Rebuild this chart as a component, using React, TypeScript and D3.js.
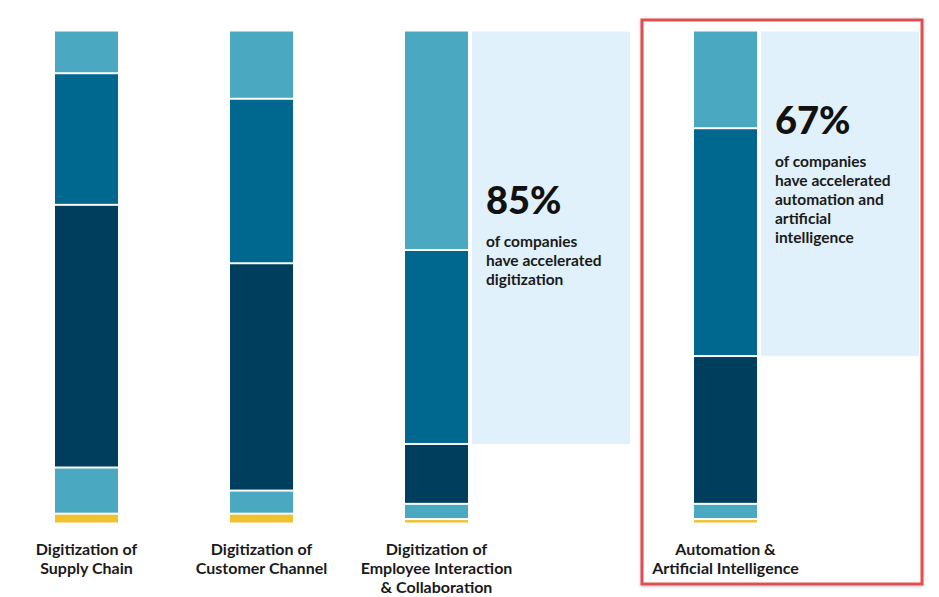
import React from "react";
import * as d3 from "d3";

// ---- data (percent of companies, bottom segment first) ----
const categories = ["supply", "customer", "employee", "automation"];
const labelLines = [
  ["Digitization of", "Supply Chain"],
  ["Digitization of", "Customer Channel"],
  ["Digitization of", "Employee Interaction", "& Collaboration"],
  ["Automation &", "Artificial Intelligence"],
];
const seriesKeys = ["yellow", "lightLow", "dark", "mid", "lightTop"];
const yellowVals = [1.8, 1.8, 0.7, 0.7];
const lightLowVals = [9.4, 4.7, 3.1, 3.1];
const darkVals = [53.5, 46.3, 12.2, 30.1];
const midVals = [26.8, 33.5, 39.5, 46.4];
const lightTopVals = [8.5, 13.7, 44.5, 19.7];

const calloutPct = [null, null, "85%", "67%"];
const calloutLines = [
  [],
  [],
  ["of companies", "have accelerated", "digitization"],
  ["of companies", "have accelerated", "automation and", "artificial", "intelligence"],
];
const highlighted = "automation";

const colors: Record<string, string> = {
  yellow: "#f1c230",
  lightLow: "#4aa9c1",
  dark: "#003e5e",
  mid: "#00678f",
  lightTop: "#4aa9c1",
};

const W = 939;
const H = 597;

export default function App() {
  const rows = categories.map((c, i) => ({
    cat: c,
    yellow: yellowVals[i],
    lightLow: lightLowVals[i],
    dark: darkVals[i],
    mid: midVals[i],
    lightTop: lightTopVals[i],
  }));
  const stack = d3.stack<any>().keys(seriesKeys)(rows);

  const y = d3.scaleLinear().domain([0, 100]).range([522.5, 31.5]);
  const x = d3
    .scaleBand()
    .domain(categories)
    .range([55, 643])
    .paddingInner(0.64)
    .paddingOuter(0);
  const highlightShift = 114;
  const bx = (c: string) => (x(c) as number) + (c === highlighted ? highlightShift : 0);
  const bw = x.bandwidth();
  const gap = 2;

  const calloutW = 158;
  const pctOffsets = [0, 0, 182.5, 102.5];

  return (
    <svg
      width={W}
      height={H}
      style={{ position: "absolute", left: 0, top: 0, background: "#fff" }}
      fontFamily="Lato, 'Open Sans', sans-serif"
    >
      <defs>
        <filter id="sh" x="-5%" y="-5%" width="110%" height="110%">
          <feDropShadow dx="0" dy="1" stdDeviation="1.5" floodColor="#000" floodOpacity="0.25" />
        </filter>
      </defs>
      {/* highlight frame */}
      {categories.map((c) =>
        c === highlighted ? (
          <rect
            key={"frame" + c}
            x={bx(c) - 52}
            y={20}
            width={280}
            height={564}
            fill="#fff"
            stroke="#e0504f"
            strokeWidth={3}
            filter="url(#sh)"
          />
        ) : null
      )}
      {/* callout boxes */}
      {categories.map((c, i) => {
        if (!calloutPct[i]) return null;
        const boundary = y(stack[2][i][1]);
        const x0 = bx(c) + bw + 4;
        return (
          <g key={"call" + c}>
            <rect x={x0} y={y(100)} width={calloutW} height={boundary - y(100)} fill="#e0f1fb" />
            <text
              x={x0 + 14}
              y={y(100) + pctOffsets[i]}
              fontSize={38}
              fontWeight={900}
              fill="#111"
            >
              {calloutPct[i]}
            </text>
            {calloutLines[i].map((l, k) => (
              <text
                key={k}
                x={x0 + 14}
                y={y(100) + pctOffsets[i] + 33 + k * 19}
                fontSize={15.5}
                fontWeight={700}
                fill="#1a1a1a"
              >
                {l}
              </text>
            ))}
          </g>
        );
      })}
      {/* bars */}
      {stack.map((s, si) =>
        s.map((d, i) => {
          const c = categories[i];
          const top = y(d[1]) + (si === seriesKeys.length - 1 ? 0 : gap / 2);
          const bot = y(d[0]) - (si === 0 ? 0 : gap / 2);
          return (
            <rect
              key={s.key + c}
              x={bx(c)}
              y={top}
              width={bw}
              height={Math.max(0.5, bot - top)}
              fill={colors[s.key]}
            />
          );
        })
      )}
      {/* labels */}
      {categories.map((c, i) => (
        <text
          key={"lab" + c}
          x={bx(c) + bw / 2}
          textAnchor="middle"
          fontSize={16}
          fontWeight={700}
          fill="#1a1a1a"
        >
          {labelLines[i].map((l, k) => (
            <tspan key={k} x={bx(c) + bw / 2} y={555 + k * 19}>
              {l}
            </tspan>
          ))}
        </text>
      ))}
    </svg>
  );
}
